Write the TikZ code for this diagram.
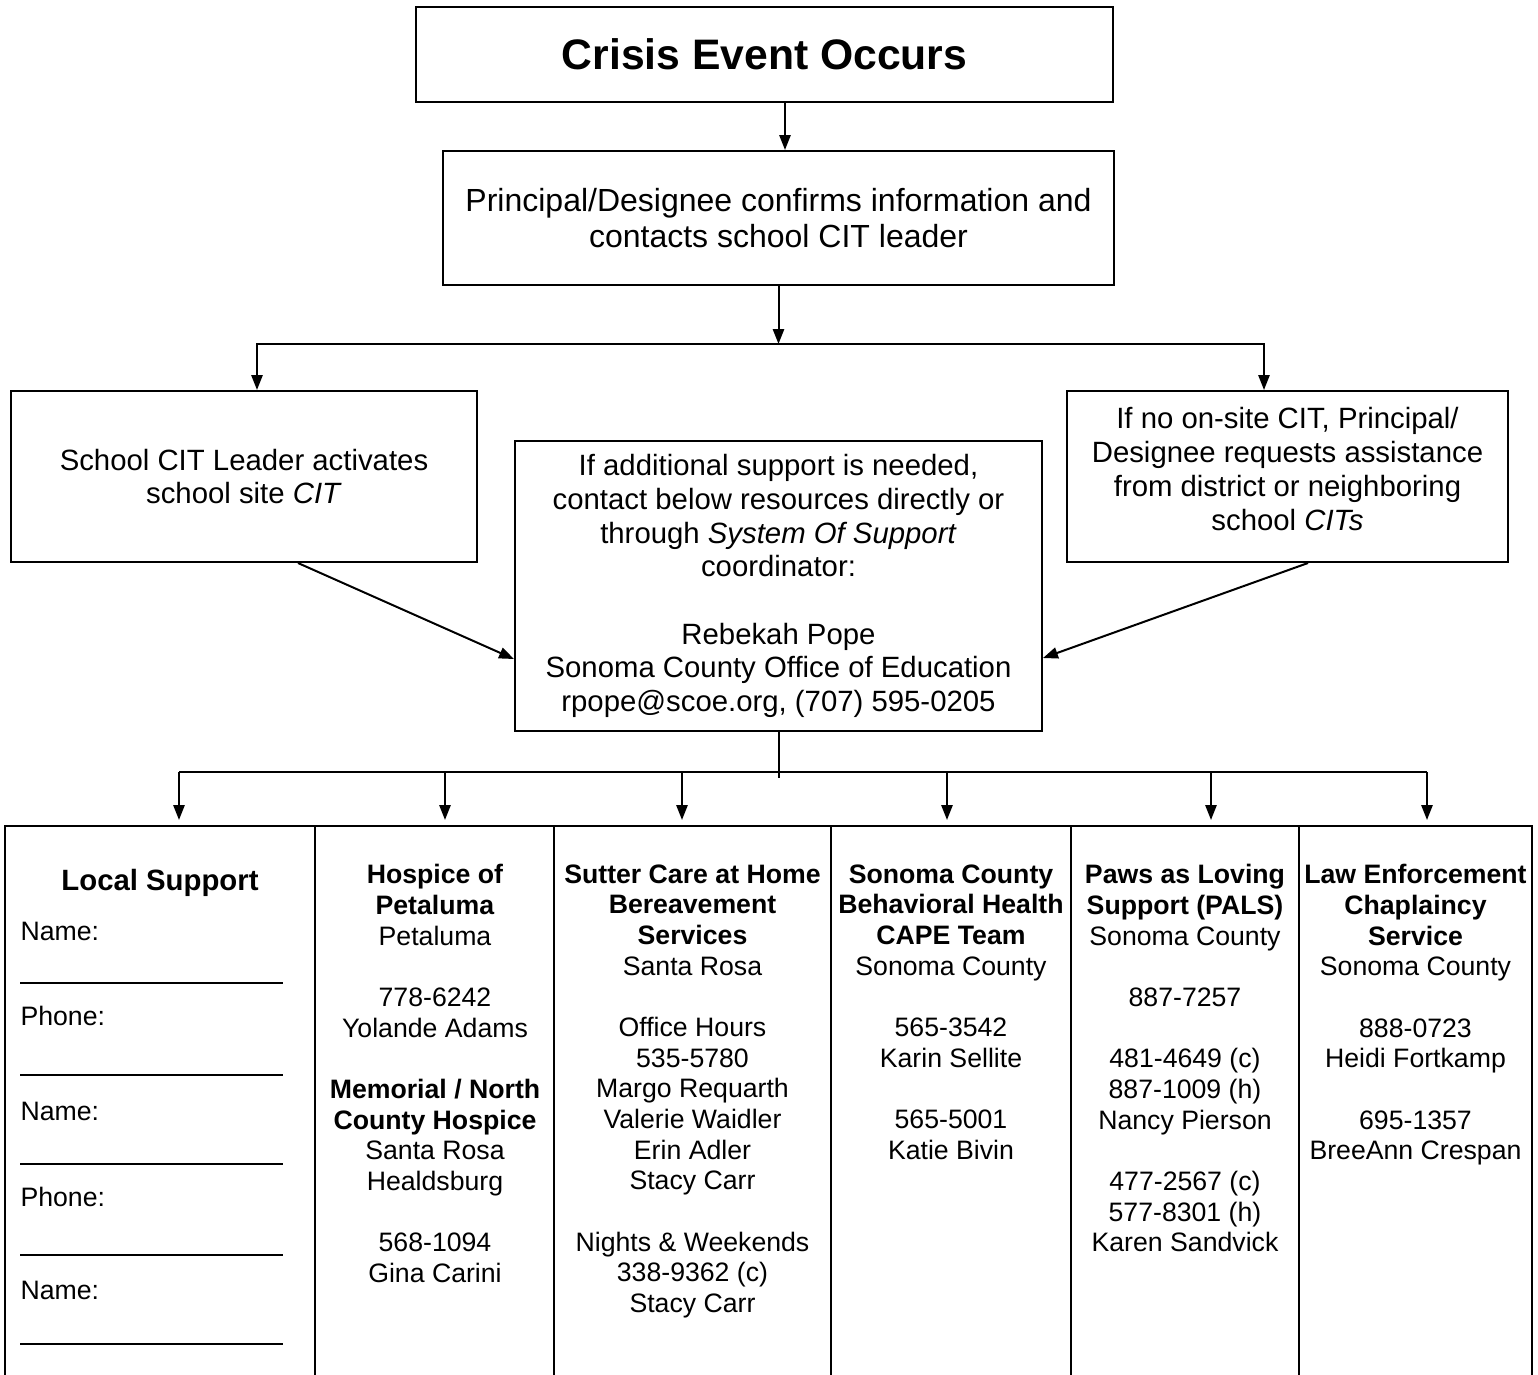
\documentclass[tikz,border=0pt]{standalone}
\usepackage{fontspec}
\setmainfont{Liberation Sans}
\usetikzlibrary{arrows.meta,calc}

\newcommand{\px}{0.375pt}
\tikzset{
  box/.style={draw, line width=0.75pt, inner sep=0pt, align=center,
    font=\fontsize{11}{12.65}\selectfont},
  arrow/.style={-{Triangle[length=5.6pt,width=4.2pt]}, line width=0.75pt},
  cell/.style={anchor=north, align=center, inner sep=0pt,
    font=\fontsize{10}{11.5}\selectfont},
  field/.style={anchor=base west, inner sep=0pt,
    font=\fontsize{10}{11.5}\selectfont},
  blank/.style={line width=0.6pt},
}

\begin{document}
\begin{tikzpicture}[x=0.375pt, y=-0.375pt]
  \useasboundingbox (0,0) rectangle (1538,1374);

  % top of the chart
  \node[box, minimum width=697*\px, minimum height=95*\px,
        font=\fontsize{16}{18.4}\selectfont\bfseries] (crisis) at (764.5,54.5) {Crisis Event Occurs};
  \node[box, minimum width=671*\px, minimum height=134*\px,
        font=\fontsize{12}{13.8}\selectfont] (confirm) at (778.5,218)
        {Principal/Designee confirms information and\\contacts school CIT leader};

  \node[box, minimum width=466*\px, minimum height=171*\px] (cit) at (244,476.5)
        {School CIT Leader activates\\school site \textit{CIT}};
  \node[box, minimum width=441*\px, minimum height=171*\px] (nocit) at (1287.5,476.5) {};
  \node[box, draw=none] (nocittext) at ($(nocit.center)+(0,-7.5)$)
        {If no on-site CIT, Principal/\\Designee requests assistance\\from district or neighboring\\school \textit{CITs}};
  \node[box, minimum width=527*\px, minimum height=290*\px] (sos) at (778.5,586)
        {If additional support is needed,\\contact below resources directly or\\through \textit{System Of Support}\\coordinator:\\[\baselineskip]
         Rebekah Pope\\Sonoma County Office of Education\\rpope@scoe.org, (707) 595-0205};

  \coordinate (split) at (778.5,344);
  \coordinate (bus) at (778.5,772);

  \draw[arrow] (crisis.south -| 785,0) -- (confirm.north -| 785,0);
  \draw[arrow] (confirm.south) -- (split);
  \draw[arrow] (split) -| ($(cit.north)+(13,0)$);
  \draw[arrow] (split) -| ($(nocit.north)+(-23.5,0)$);
  \draw[arrow] ($(cit.south)+(54,0)$) -- ($(sos.west)+(0,73)$);
  \draw[arrow] ($(nocit.south)+(20.5,0)$) -- ($(sos.east)+(0,72)$);

  % resources
  \foreach \i/\x in {1/179,2/445,3/682,4/947,5/1211,6/1427}
    \coordinate (in\i) at (\x,820);
  \draw[line width=0.75pt] (sos.south) -- ++(0,46);
  \draw[line width=0.75pt] (in1 |- bus) -- (in6 |- bus);
  \foreach \i in {1,...,6}
    \draw[arrow] (in\i |- bus) -- (in\i);

  \draw[line width=1.1pt] (5,1390) |- (1532,826) -- (1532,1390);
  \foreach \x in {315,554,831,1071,1299}
    \draw[line width=0.75pt] (\x,826) -- (\x,1390);

  \node[cell, font=\fontsize{11}{12.65}\selectfont\bfseries] (local) at (160,869) {Local Support};
  \foreach \y/\t [count=\i] in {940/Name:,1025/Phone:,1120/Name:,1206/Phone:,1299/Name:}
    \node[field] (field\i) at (20,\y) {\t};
  \foreach \y in {983,1075,1164,1255,1344}
    \draw[blank] (20,\y) -- (283,\y);

  \node[cell] (hospice) at (435,864)
    {\textbf{Hospice of}\\\textbf{Petaluma}\\Petaluma\\[\baselineskip]
     778-6242\\Yolande Adams\\[\baselineskip]
     \textbf{Memorial / North}\\\textbf{County Hospice}\\Santa Rosa\\Healdsburg\\[\baselineskip]
     568-1094\\Gina Carini};
  \node[cell] (sutter) at (692.5,864)
    {\textbf{Sutter Care at Home}\\\textbf{Bereavement}\\\textbf{Services}\\Santa Rosa\\[\baselineskip]
     Office Hours\\535-5780\\Margo Requarth\\Valerie Waidler\\Erin Adler\\Stacy Carr\\[\baselineskip]
     Nights \& Weekends\\338-9362 (c)\\Stacy Carr};
  \node[cell] (cape) at (951,864)
    {\textbf{Sonoma County}\\\textbf{Behavioral Health}\\\textbf{CAPE Team}\\Sonoma County\\[\baselineskip]
     565-3542\\Karin Sellite\\[\baselineskip]
     565-5001\\Katie Bivin};
  \node[cell] (pals) at (1185,864)
    {\textbf{Paws as Loving}\\\textbf{Support (PALS)}\\Sonoma County\\[\baselineskip]
     887-7257\\[\baselineskip]
     481-4649 (c)\\887-1009 (h)\\Nancy Pierson\\[\baselineskip]
     477-2567 (c)\\577-8301 (h)\\Karen Sandvick};
  \node[cell] (chaplain) at (1415.5,864)
    {\textbf{Law Enforcement}\\\textbf{Chaplaincy}\\\textbf{Service}\\Sonoma County\\[\baselineskip]
     888-0723\\Heidi Fortkamp\\[\baselineskip]
     695-1357\\BreeAnn Crespan};
\end{tikzpicture}
\end{document}
